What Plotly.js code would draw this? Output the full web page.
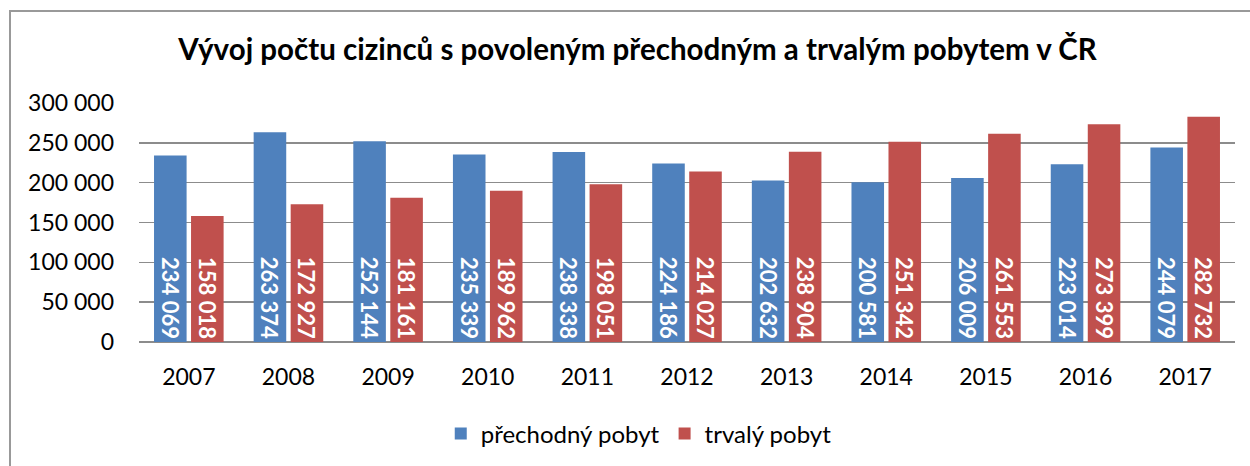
<!DOCTYPE html>
<html>
<head>
<meta charset="utf-8">
<script src="https://cdn.plot.ly/plotly-3.0.1.min.js"></script>
<style>
html,body{margin:0;padding:0;background:#fff;}
#wrap{position:relative;width:1250px;height:466px;overflow:hidden;}
#frame{position:absolute;left:9px;top:10px;width:1300px;height:500px;border-top:2px solid #999;border-left:2px solid #999;box-sizing:border-box;pointer-events:none;z-index:5;}
#chart{position:absolute;left:0;top:0;width:1250px;height:466px;}
</style>
</head>
<body>
<div id="wrap">
<div id="chart"></div>
<div id="frame"></div>
</div>
<script>
const years = ['2007','2008','2009','2010','2011','2012','2013','2014','2015','2016','2017'];
const prechodny = [234069, 263374, 252144, 235339, 238338, 224186, 202632, 200581, 206009, 223014, 244079];
const trvaly = [158018, 172927, 181161, 189962, 198051, 214027, 238904, 251342, 261553, 273399, 282732];
const seriesNames = ['přechodný pobyt', 'trvalý pobyt'];
const titleText = 'Vývoj počtu cizinců s povoleným přechodným a trvalým pobytem v ČR';

const FONT = 'Lato, "Open Sans", "DejaVu Sans", sans-serif';

function barTrace(name, vals, color) {
  return {
    type: 'bar',
    name: name,
    x: years,
    y: vals,
    marker: {color: color, line: {width: 0}},
    texttemplate: '%{y:,d}',
    textposition: 'inside',
    insidetextanchor: 'start',
    textangle: 90,
    textfont: {family: FONT, size: 22, color: '#ffffff', weight: 'bold'},
    constraintext: 'none',
    cliponaxis: false,
    hoverinfo: 'x+y'
  };
}

const data = [
  barTrace(seriesNames[0], prechodny, '#4F81BD'),
  barTrace(seriesNames[1], trvaly, '#C0504D')
];

const layout = {
  width: 1250,
  height: 466,
  separators: ', ',
  paper_bgcolor: '#ffffff',
  plot_bgcolor: '#ffffff',
  margin: {l: 139, r: 15, t: 103, b: 124},
  font: {family: FONT, color: '#000'},
  title: {
    text: '<b>' + titleText + '</b>',
    x: 0.51, xref: 'container', xanchor: 'center',
    y: 1 - 50/466, yref: 'container', yanchor: 'middle',
    font: {family: FONT, size: 29.5, color: '#000'}
  },
  barmode: 'group',
  bargap: 0.257,
  bargroupgap: 0.12,
  xaxis: {
    type: 'category',
    showgrid: false,
    showline: false,
    ticks: '',
    tickfont: {family: FONT, size: 23, color: '#000'},
    ticklabelstandoff: 19
  },
  yaxis: {
    range: [0, 300000],
    dtick: 50000,
    tickformat: ',d',
    showgrid: true,
    gridcolor: '#8c8c8c',
    gridwidth: 1.5,
    zeroline: true,
    zerolinecolor: '#8c8c8c',
    zerolinewidth: 1.5,
    showline: false,
    ticks: '',
    tickfont: {family: FONT, size: 23, color: '#000'},
    ticklabelstandoff: 24
  },
  showlegend: true,
  legend: {
    orientation: 'h',
    xref: 'container', x: 0.511, xanchor: 'center',
    yref: 'container', y: 1 - 434/466, yanchor: 'middle',
    font: {family: FONT, size: 24, color: '#000'},
    itemsizing: 'constant',
    itemwidth: 30
  }
};

Plotly.newPlot('chart', data, layout, {displayModeBar: false, staticPlot: true});
</script>
</body>
</html>
